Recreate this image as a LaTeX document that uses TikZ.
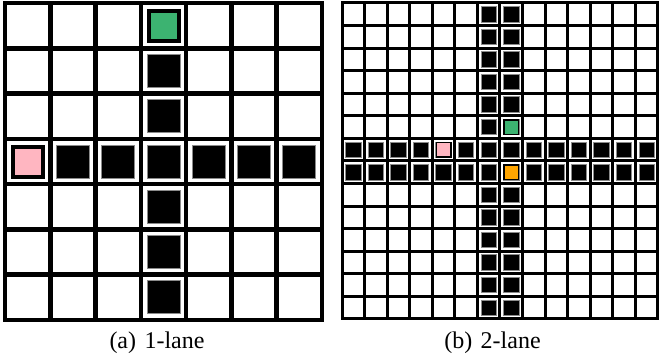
\documentclass[tikz,border=0pt]{standalone}
\usepackage{fontspec}
\setmainfont{Liberation Serif}
\definecolor{cgreen}{HTML}{3CB371}
\definecolor{cpink}{HTML}{FFB6C1}
\definecolor{corange}{HTML}{FFA500}
\definecolor{cedge}{HTML}{8A8A8A}
\tikzset{
  gridline/.style={line width=#1, line cap=rect, draw=black},
  road/.style={draw=cedge, fill=black, line width=0.8pt, inner sep=0pt, minimum size=#1},
  agent/.style={draw=black, fill=#1, inner sep=0pt},
  caption/.style={font=\fontsize{24}{28}\selectfont, anchor=base},
}
\begin{document}
\begin{tikzpicture}[x=1pt, y=-1pt]
  \useasboundingbox (0,0) rectangle (660,355);
  % (a) 1-lane
  \begin{scope}[shift={(5,3)}, x=45.29pt, y=-45.29pt]
    \foreach \i in {0,...,7} {
      \draw[gridline=4.5pt] (\i,0) -- (\i,7);
      \draw[gridline=4.5pt] (0,\i) -- (7,\i);
    }
    \foreach \k in {0,...,6} {
      \node[road=33pt] (a-v\k) at (3.5,\k+0.5) {};
      \node[road=33pt] (a-h\k) at (\k+0.5,3.5) {};
    }
    \node[agent=cgreen, line width=4pt, minimum size=30pt] (a-green) at (3.5,0.5) {};
    \node[agent=cpink, line width=4pt, minimum size=30pt] (a-pink) at (0.5,3.5) {};
  \end{scope}
  % (b) 2-lane
  \begin{scope}[shift={(342,3)}, x=22.57pt, y=-22.57pt]
    \foreach \i in {0,...,14} {
      \draw[gridline=3pt] (\i,0) -- (\i,14);
      \draw[gridline=3pt] (0,\i) -- (14,\i);
    }
    \foreach \k in {0,...,13} {
      \foreach \l in {6,7} {
        \node[road=15.5pt] (b-v\l-\k) at (\l+0.5,\k+0.5) {};
        \node[road=15.5pt] (b-h\l-\k) at (\k+0.5,\l+0.5) {};
      }
    }
    \node[agent=cgreen, line width=1.5pt, minimum size=14.5pt] (b-green) at (7.5,5.5) {};
    \node[agent=cpink, line width=1.5pt, minimum size=14.5pt] (b-pink) at (4.5,6.5) {};
    \node[agent=corange, line width=1.5pt, minimum size=14.5pt] (b-orange) at (7.5,7.5) {};
  \end{scope}
  \node[caption] (cap-a) at (157,348) {(a)\hspace{0.35em}1-lane};
  \node[caption] (cap-b) at (492.5,348) {(b)\hspace{0.35em}2-lane};
\end{tikzpicture}
\end{document}
